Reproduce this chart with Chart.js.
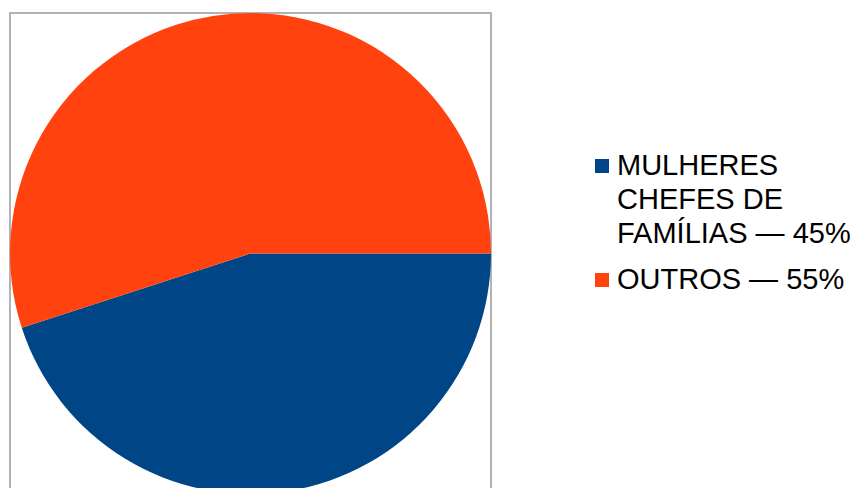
<!DOCTYPE html>
<html>
<head>
<meta charset="utf-8">
<script src="https://cdn.jsdelivr.net/npm/chart.js@4"></script>
<style>
  html, body { margin: 0; padding: 0; background: #fff; overflow: hidden; width: 857px; height: 488px; }
  #wrap { position: absolute; left: 0; top: 0; width: 501px; height: 508px; }
  #legend { position: absolute; left: 595px; top: 148px; font-family: "Liberation Sans", Arial, sans-serif; font-size: 29px; color: #000; white-space: nowrap; }
  .item { position: relative; padding-left: 22px; line-height: 34px; margin-bottom: 12px; }
  .box { position: absolute; left: 0; top: 11px; width: 14px; height: 14px; }
</style>
</head>
<body>
<div id="wrap"><canvas id="pie"></canvas></div>
<div id="legend"></div>
<script>
var categories = ["MULHERES CHEFES DE FAMÍLIAS — 45%", "OUTROS — 55%"];
var legendLines = [["MULHERES", "CHEFES DE", "FAMÍLIAS — 45%"], ["OUTROS — 55%"]];
var values = [45, 55];
var colors = ["#004586", "#ff420e"];

var frameBorder = {
    id: 'frameBorder',
    beforeDraw: function (chart) {
        var a = chart.chartArea;
        var ctx = chart.ctx;
        ctx.save();
        ctx.strokeStyle = "#b3b3b3";
        ctx.lineWidth = 2;
        ctx.strokeRect(a.left, a.top, a.right - a.left, a.bottom - a.top);
        ctx.restore();
    }
};

var ctx1 = document.getElementById("pie").getContext("2d");
window.myPie = new Chart(ctx1, {
    type: 'pie',
    data: {
        labels: categories,
        datasets: [{
            data: values,
            backgroundColor: colors,
            borderWidth: 0
        }]
    },
    options: {
        responsive: true,
        maintainAspectRatio: false,
        animation: false,
        rotation: 90,
        layout: { padding: { left: 10, top: 13, right: 10, bottom: 14 } },
        plugins: {
            legend: { display: false },
            tooltip: { enabled: false }
        }
    },
    plugins: [frameBorder]
});

var legend = document.getElementById("legend");
legendLines.forEach(function (lines, i) {
    var item = document.createElement("div");
    item.className = "item";
    var box = document.createElement("span");
    box.className = "box";
    box.style.background = colors[i];
    item.appendChild(box);
    item.appendChild(document.createTextNode(lines[0]));
    for (var k = 1; k < lines.length; k++) {
        item.appendChild(document.createElement("br"));
        item.appendChild(document.createTextNode(lines[k]));
    }
    legend.appendChild(item);
});
</script>
</body>
</html>
